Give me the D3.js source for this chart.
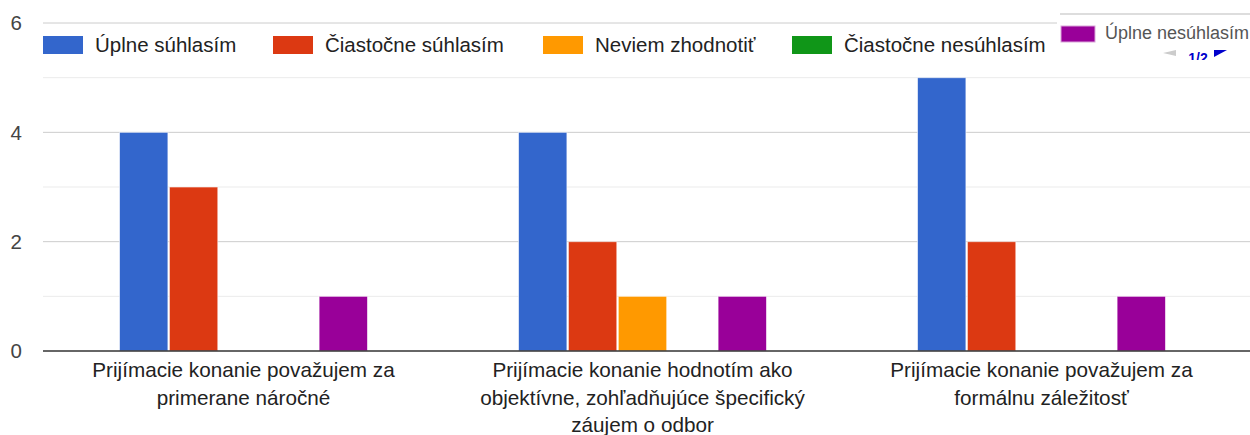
<!DOCTYPE html>
<html>
<meta charset='utf-8'>
<head>
<title>Prijímacie konanie</title>
<script src='https://d3js.org/d3.v7.min.js'></script>
<style>
body { margin: 0; background: #fff; font-family: Arial, 'Liberation Sans', sans-serif; }
</style>
</head>
<body>
<div id='my_dataviz'></div>
<script>

var categories = [
    ['Prijímacie konanie považujem za', 'primerane náročné'],
    ['Prijímacie konanie hodnotím ako', 'objektívne, zohľadňujúce špecifický', 'záujem o odbor'],
    ['Prijímacie konanie považujem za', 'formálnu záležitosť']
]
var seriesNames = ['Úplne súhlasím', 'Čiastočne súhlasím', 'Neviem zhodnotiť', 'Čiastočne nesúhlasím', 'Úplne nesúhlasím']
var seriesColors = ['#3366cc', '#dc3912', '#ff9900', '#109618', '#990099']
var uplneSuhlasim = [4, 4, 5]
var ciastocneSuhlasim = [3, 2, 2]
var neviemZhodnotit = [0, 1, 0]
var ciastocneNesuhlasim = [0, 0, 0]
var uplneNesuhlasim = [1, 1, 1]
var yTicks = [0, 2, 4, 6]
var yMinor = [1, 3, 5]

var seriesValues = [uplneSuhlasim, ciastocneSuhlasim, neviemZhodnotit, ciastocneNesuhlasim, uplneNesuhlasim]

var width = 1250, height = 435
var svg = d3.select('#my_dataviz')
    .append('svg')
    .attr('width', width)
    .attr('height', height)
    .style('font-family', 'Arial, "Liberation Sans", sans-serif')

var y = d3.scaleLinear()
    .domain([0, 6])
    .range([351, 23])

var x0 = d3.scaleBand()
    .domain(d3.range(categories.length))
    .range([44, 1241])

var x1 = d3.scaleBand()
    .domain(seriesNames)
    .range([0, 248])
    .paddingInner(0.03)

var groupOffset = (x0.bandwidth() - 248) / 2

// gridlines
svg.append('g').selectAll('line.minor')
    .data(yMinor)
    .enter()
    .append('line')
    .attr('x1', 43).attr('x2', width)
    .attr('y1', function(d) { return y(d) }).attr('y2', function(d) { return y(d) })
    .attr('stroke', '#ebebeb')
    .attr('stroke-width', 1)

svg.append('g').selectAll('line.major')
    .data(yTicks.filter(function(d) { return d > 0 }))
    .enter()
    .append('line')
    .attr('x1', 43).attr('x2', width)
    .attr('y1', function(d) { return y(d) }).attr('y2', function(d) { return y(d) })
    .attr('stroke', '#cccccc')
    .attr('stroke-width', 1)

// y labels
svg.append('g').selectAll('text')
    .data(yTicks)
    .enter()
    .append('text')
    .attr('x', 22)
    .attr('y', function(d) { return y(d) })
    .attr('dy', '0.35em')
    .attr('text-anchor', 'end')
    .attr('font-size', 20.5)
    .attr('fill', '#444')
    .text(function(d) { return d })

// bars
var groups = svg.append('g').selectAll('g')
    .data(categories)
    .enter()
    .append('g')
    .attr('transform', function(d, i) { return 'translate(' + (x0(i) + groupOffset) + ',0)' })

groups.selectAll('rect')
    .data(function(d, i) {
        return seriesNames.map(function(s, j) { return {name: s, value: seriesValues[j][i], color: seriesColors[j]} })
    })
    .enter()
    .append('rect')
    .filter(function(d) { return d.value > 0 })
    .attr('x', function(d) { return x1(d.name) })
    .attr('width', x1.bandwidth())
    .attr('y', function(d) { return y(d.value) })
    .attr('height', function(d) { return y(0) - y(d.value) })
    .attr('fill', function(d) { return d.color })
    .attr('stroke', '#ffffff')
    .attr('stroke-opacity', 0.6)
    .attr('stroke-width', 1)

// baseline
svg.append('line')
    .attr('x1', 43).attr('x2', width)
    .attr('y1', y(0)).attr('y2', y(0))
    .attr('stroke', '#333')
    .attr('stroke-width', 1.5)

// category labels
svg.append('g').selectAll('text')
    .data(categories)
    .enter()
    .append('text')
    .attr('text-anchor', 'middle')
    .attr('font-size', 20.7)
    .attr('fill', '#222')
    .each(function(lines, i) {
        var t = d3.select(this)
        lines.forEach(function(l, k) {
            t.append('tspan')
                .attr('x', x0(i) + x0.bandwidth() / 2)
                .attr('y', 377 + k * 27.5)
                .text(l)
        })
    })

// legend
var legendX = [43, 273, 543, 792]
var legend = svg.append('g').selectAll('g')
    .data(seriesNames.slice(0, 4))
    .enter()
    .append('g')
    .attr('transform', function(d, i) { return 'translate(' + legendX[i] + ',36)' })

legend.append('rect')
    .attr('width', 40).attr('height', 18)
    .attr('fill', function(d, i) { return seriesColors[i] })

legend.append('text')
    .attr('x', 52)
    .attr('y', 9)
    .attr('dy', '0.35em')
    .attr('font-size', 20.5)
    .attr('fill', '#222')
    .text(function(d) { return d })

// pagination (mostly hidden behind the tooltip box)
svg.append('clipPath')
    .attr('id', 'pagerClip')
    .append('rect')
    .attr('x', 1150).attr('y', 50)
    .attr('width', 100).attr('height', 10)

var pager = svg.append('g').attr('clip-path', 'url(#pagerClip)')
pager.append('path')
    .attr('d', 'M1163,53 L1176,50 L1176,56 Z')
    .attr('fill', '#ccc')
pager.append('text')
    .attr('x', 1198).attr('y', 63)
    .attr('text-anchor', 'middle')
    .attr('font-size', 14)
    .attr('font-weight', 'bold')
    .attr('fill', '#0000cc')
    .text('1/2')
pager.append('path')
    .attr('d', 'M1214,50 L1227,50 L1214,57 Z')
    .attr('fill', '#0000cc')

// tooltip box with the fifth legend entry
var tip = svg.append('g')
tip.append('rect')
    .attr('x', 1057).attr('y', 14)
    .attr('width', 200).attr('height', 36)
    .attr('fill', '#fff')
tip.append('line')
    .attr('x1', 1060).attr('x2', width)
    .attr('y1', 14).attr('y2', 14)
    .attr('stroke', '#ddd')
    .attr('stroke-width', 2)
tip.append('rect')
    .attr('x', 1061).attr('y', 26)
    .attr('width', 34).attr('height', 16)
    .attr('fill', seriesColors[4])
    .attr('stroke', '#d9a6d9')
    .attr('stroke-width', 1)
tip.append('text')
    .attr('x', 1105).attr('y', 33)
    .attr('dy', '0.35em')
    .attr('font-size', 18)
    .attr('fill', '#555')
    .text(seriesNames[4])

</script>
</body>
</html>
